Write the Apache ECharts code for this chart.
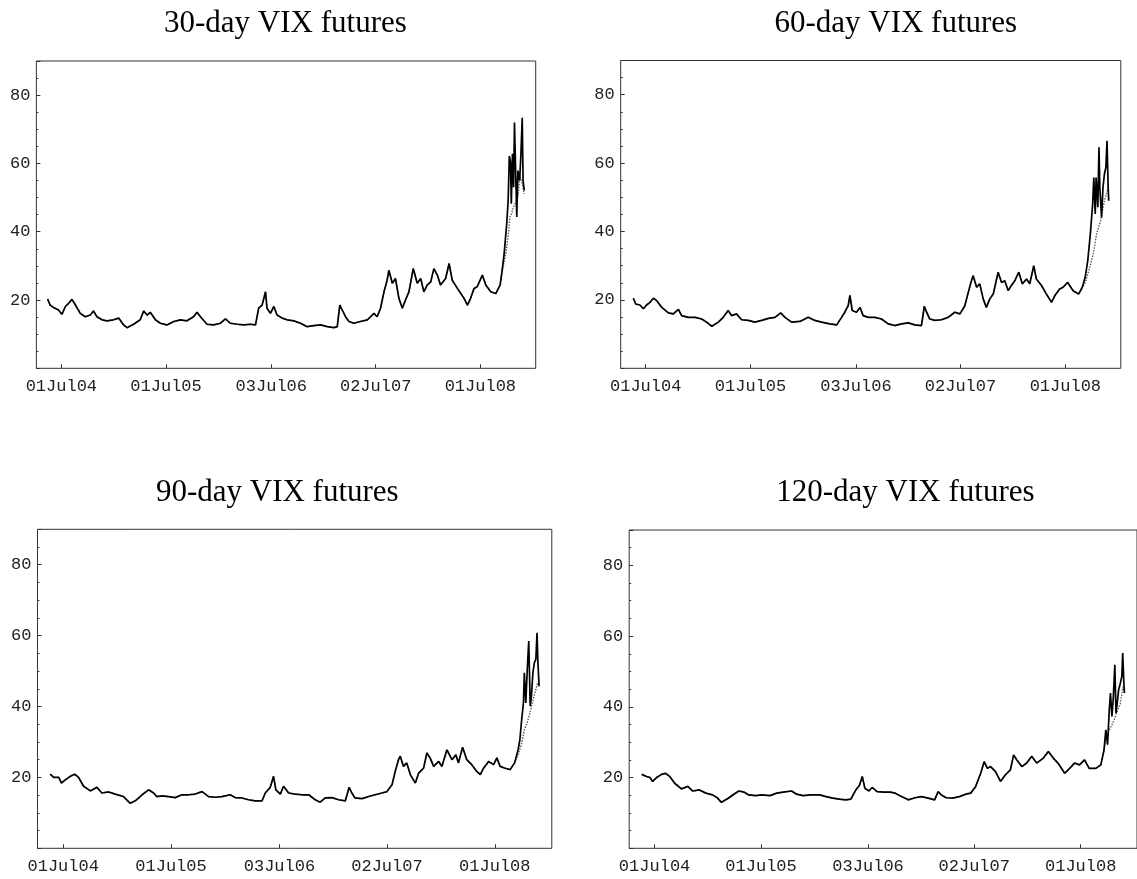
<!DOCTYPE html>
<html>
<head>
<meta charset="utf-8">
<script src="https://cdn.jsdelivr.net/npm/echarts@6/dist/echarts.min.js"></script>
<style>
html,body{margin:0;padding:0;background:#fff;}
#chart{width:1137px;height:879px;}
</style>
</head>
<body>
<div id="chart"></div>
<script>
// x values are calendar days counted from 01 Jul 2004
const tickDays = [0, 365, 732, 1096, 1461];
const tickLabels = ['01Jul04', '01Jul05', '03Jul06', '02Jul07', '01Jul08'];
const yLabelValues = [20, 40, 60, 80];
const panelTitles = ['30-day VIX futures', '60-day VIX futures', '90-day VIX futures', '120-day VIX futures'];

// ---- 30-day (solid: futures, dotted: second series that separates in the Sep-Dec 2008 run-up) ----
const days30 = [-48,-39,-27,-10,2,14,25,37,48,66,83,101,112,124,142,159,182,200,217,229,252,275,287,299,310,328,345,368,392,415,438,461,473,485,508,531,555,572,589,613,636,659,677,688,700,712,717,729,741,752,770,787,811,834,857,880,904,927,950,962,971,979,991,1003,1020,1043,1067,1078,1090,1101,1113,1125,1136,1142,1154,1165,1177,1189,1200,1212,1227,1241,1253,1264,1276,1288,1299,1311,1322,1340,1352,1363,1381,1404,1416,1427,1439,1450,1468,1480,1497,1515,1530,1536,1544,1553,1558,1562,1566,1569,1573,1577,1580,1584,1588,1592,1598,1602,1607,1610,1614];
const vix30 = [20.3,18.5,17.8,17.1,15.8,18.1,19.0,20.2,18.7,16.1,15.1,15.6,16.8,15.1,14.2,13.9,14.2,14.7,12.7,11.9,12.9,14.2,16.8,15.6,16.4,14.2,13.2,12.7,13.7,14.2,13.9,15.1,16.4,15.1,12.9,12.7,13.2,14.5,13.2,12.9,12.7,12.9,12.7,17.6,18.5,22.4,17.6,16.1,18.1,15.6,14.7,14.2,13.9,13.2,12.2,12.5,12.7,12.2,11.9,12.2,18.5,17.1,15.1,13.7,13.2,13.7,14.2,15.1,16.1,15.1,17.6,22.4,25.8,28.7,24.9,26.3,20.5,17.6,20.0,22.4,29.2,24.9,26.3,22.4,24.4,25.3,29.2,27.3,24.4,26.3,30.7,25.8,23.4,20.5,18.5,20.5,23.4,23.9,27.3,24.4,22.4,21.9,24.4,28.0,33.6,42.4,49.2,62.2,60.5,48.2,62.8,53.0,72.0,57.9,44.3,57.9,55.0,61.8,73.4,55.0,52.1];
const modelDays30 = [1536,1541,1550,1559,1564,1570,1576,1588,1593,1599,1605,1614];
const model30 = [28.0,27.9,33.7,39.5,44.3,45.3,47.2,49.2,51.1,56.0,55.0,51.1];

// ---- 60-day ----
const days60 = [-43,-35,-20,-8,3,15,27,38,56,79,96,114,125,148,172,195,212,230,253,270,287,299,316,334,357,380,404,427,450,470,485,508,537,566,589,612,641,665,682,693,705,711,719,734,746,757,775,798,821,844,867,891,914,937,960,970,978,989,1007,1030,1053,1076,1094,1111,1123,1134,1140,1152,1163,1175,1186,1198,1210,1227,1239,1250,1262,1273,1285,1299,1311,1326,1337,1351,1360,1378,1395,1413,1424,1441,1453,1469,1488,1507,1520,1530,1539,1548,1556,1560,1565,1568,1574,1578,1581,1587,1592,1597,1602,1606,1610,1612];
const vix60 = [20.5,18.8,18.5,17.4,18.5,19.3,20.5,19.8,17.8,16.2,15.9,17.2,15.4,14.9,14.9,14.4,13.5,12.3,13.5,14.9,16.9,15.4,15.9,14.2,14.0,13.5,14.0,14.6,14.9,16.2,14.9,13.5,13.7,14.9,14.0,13.5,13.0,12.7,14.9,16.4,18.3,21.3,16.9,16.4,17.8,15.4,14.9,14.9,14.4,13.0,12.5,13.0,13.3,12.7,12.5,18.1,16.4,14.4,14.0,14.2,14.9,16.4,15.9,18.3,22.2,25.6,27.1,23.7,24.7,20.3,17.8,20.3,21.7,28.1,25.1,25.6,22.7,24.2,25.6,28.1,24.7,26.1,24.7,30.0,26.1,24.2,21.7,19.3,21.2,23.2,23.7,25.1,22.7,21.7,23.7,26.6,31.5,39.3,48.0,55.8,45.1,55.8,47.1,64.6,52.9,44.1,52.9,56.8,58.7,66.5,52.9,49.0];
const modelDays60 = [1530,1546,1558,1570,1584,1597,1610];
const model60 = [25.0,29.5,33.4,39.3,43.2,49.0,52.9];

// ---- 90-day ----
const days90 = [-44,-32,-15,-6,7,24,39,52,69,92,114,131,154,176,204,227,244,267,289,306,317,334,357,379,402,424,447,470,492,515,537,565,582,605,627,650,673,684,701,712,720,735,746,763,785,808,831,853,870,887,910,932,955,968,977,988,1011,1034,1056,1079,1096,1113,1124,1135,1141,1152,1163,1175,1192,1203,1220,1231,1242,1254,1271,1282,1299,1316,1329,1338,1352,1366,1383,1400,1412,1423,1440,1457,1468,1479,1496,1513,1528,1540,1546,1552,1558,1561,1566,1571,1576,1581,1585,1590,1595,1600,1604,1607,1611];
const vix90 = [20.9,20.0,20.0,18.4,19.3,20.3,20.9,20.0,17.5,16.2,17.2,15.6,15.9,15.3,14.6,12.7,13.4,15.1,16.5,15.6,14.6,14.8,14.6,14.3,15.1,15.1,15.3,16.0,14.6,14.4,14.6,15.1,14.3,14.2,13.7,13.4,13.4,15.6,17.2,20.3,16.5,15.3,17.5,15.6,15.3,15.1,15.1,13.7,13.0,14.2,14.3,13.7,13.4,17.2,15.6,14.2,14.0,14.6,15.1,15.6,16.0,17.9,21.7,25.0,26.0,23.1,24.1,20.8,18.4,21.2,22.6,26.9,25.5,23.1,24.5,23.1,27.8,25.0,26.4,24.1,28.5,25.0,23.6,21.7,20.8,22.6,24.5,23.6,25.5,23.1,22.6,22.2,24.1,27.8,30.7,36.3,41.0,49.5,41.0,50.5,58.5,40.1,42.9,49.5,52.4,53.3,60.8,52.4,45.7];
const modelDays90 = [1528,1540,1552,1561,1570,1580,1588,1597,1606,1611];
const model90 = [24.1,26.3,29.6,33.4,35.3,38.1,41.0,43.8,46.7,45.7];

// ---- 120-day ----
const days120 = [-44,-27,-15,-7,7,24,38,52,69,92,114,131,154,176,199,216,229,250,272,289,306,323,346,368,396,419,441,470,487,509,537,566,588,611,633,656,673,690,703,712,721,735,746,763,786,808,825,848,870,893,915,938,960,972,983,1000,1022,1045,1067,1084,1101,1118,1130,1141,1152,1169,1186,1203,1220,1231,1242,1259,1276,1293,1310,1333,1350,1367,1383,1406,1423,1440,1457,1474,1490,1513,1530,1541,1547,1553,1559,1563,1568,1573,1578,1582,1586,1591,1597,1602,1605,1609,1611];
const vix120 = [20.9,20.3,20.0,18.9,20.0,20.9,21.2,20.3,18.4,16.8,17.5,16.2,16.5,15.6,15.1,14.2,13.0,14.0,15.3,16.2,15.9,15.1,14.9,15.1,14.9,15.6,15.9,16.2,15.3,14.9,15.1,15.1,14.6,14.2,13.9,13.7,13.9,16.5,17.9,20.3,17.0,16.2,17.2,16.0,15.9,15.9,15.6,14.6,13.7,14.3,14.6,14.2,13.7,16.0,15.1,14.3,14.2,14.6,15.3,15.6,17.5,21.2,24.5,22.6,23.1,21.7,18.9,20.8,22.2,26.4,25.0,23.1,24.1,26.0,24.1,25.5,27.4,25.5,24.1,21.2,22.6,24.1,23.6,25.0,22.6,22.6,23.6,27.8,33.5,29.3,39.2,43.9,37.3,42.9,51.9,38.2,41.0,44.8,46.7,48.6,55.2,46.7,43.9];
const modelDays120 = [1530,1547,1559,1571,1584,1597,1606,1611];
const model120 = [23.6,30.7,33.5,35.4,38.2,41.0,45.7,43.9];

const panels = [
  {days: days30, vals: vix30, mDays: modelDays30, mVals: model30},
  {days: days60, vals: vix60, mDays: modelDays60, mVals: model60},
  {days: days90, vals: vix90, mDays: modelDays90, mVals: model90},
  {days: days120, vals: vix120, mDays: modelDays120, mVals: model120}
];

// layout (pixels)
const gridBoxes = [
  {left: 36.4, top: 61, width: 499.3, height: 307.3},
  {left: 620.7, top: 60.5, width: 500.1, height: 307.8},
  {left: 37.5, top: 529.3, width: 514.3, height: 319},
  {left: 629.2, top: 530, width: 514.6, height: 318.3}
];
const titlePos = [
  {x: 285.4, y: 8}, {x: 895.8, y: 8}, {x: 277.3, y: 477.5}, {x: 905.4, y: 477.5}
];

const zip = (a, b) => a.map((d, i) => [d, b[i]]);
// the dotted series lies on top of the solid one until the 2008 run-up, then follows its own readings
const dottedData = p => zip(p.days, p.vals).filter(pt => pt[0] < p.mDays[0]).concat(zip(p.mDays, p.mVals));
const monoFont = 'Liberation Mono';

const option = {
  animation: false,
  backgroundColor: '#fff',
  title: panelTitles.map((t, i) => ({
    text: t, left: titlePos[i].x, top: titlePos[i].y, textAlign: 'center', padding: 0,
    textStyle: {fontFamily: 'Liberation Serif', fontSize: 31, fontWeight: 'normal', color: '#000'}
  })),
  grid: gridBoxes.map(g => Object.assign({show: true, borderColor: '#333', borderWidth: 1, backgroundColor: 'transparent'}, g)),
  xAxis: gridBoxes.map((g, i) => ({
    type: 'value', gridIndex: i, min: -87, max: 1654, position: 'bottom',
    axisLine: {show: false, onZero: false},
    splitLine: {show: false},
    axisTick: {show: true, inside: true, length: 4, customValues: tickDays, lineStyle: {color: '#333'}},
    axisLabel: {
      show: true, customValues: tickDays, margin: 10,
      fontFamily: monoFont, fontSize: 17, color: '#222',
      formatter: v => tickLabels[tickDays.indexOf(v)] || ''
    }
  })),
  yAxis: [].concat(...gridBoxes.map((g, i) => [
    {
      type: 'value', gridIndex: i, position: 'left', min: 0, max: 90, interval: 20,
      axisLine: {show: false, onZero: false}, splitLine: {show: false},
      axisTick: {show: true, inside: true, length: 4, lineStyle: {color: '#333'}},
      axisLabel: {
        show: true, margin: 6, fontFamily: monoFont, fontSize: 17, color: '#222',
        formatter: v => yLabelValues.indexOf(v) >= 0 ? String(v) : ''
      }
    },
    {
      type: 'value', gridIndex: i, position: 'left', min: 0, max: 90, interval: 5,
      axisLine: {show: false, onZero: false}, splitLine: {show: false},
      axisTick: {show: true, inside: true, length: 2, lineStyle: {color: '#333'}},
      axisLabel: {show: false}
    }
  ])),
  series: [].concat(...panels.map((p, i) => [
    {
      type: 'line', xAxisIndex: i, yAxisIndex: 2 * i, data: dottedData(p),
      showSymbol: false, smooth: false, z: 2,
      lineStyle: {color: '#555', width: 1.4, type: 'dotted'}
    },
    {
      type: 'line', xAxisIndex: i, yAxisIndex: 2 * i, data: zip(p.days, p.vals),
      showSymbol: false, smooth: false, z: 3,
      lineStyle: {color: '#000', width: 1.7}
    }
  ]))
};

const chart = echarts.init(document.getElementById('chart'), null, {renderer: 'canvas'});
chart.setOption(option);
</script>
</body>
</html>
